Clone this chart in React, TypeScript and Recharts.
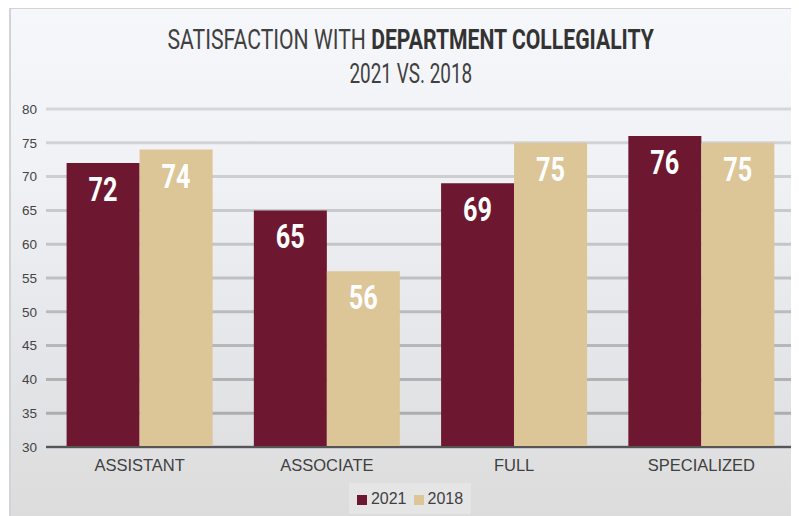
import { useLayoutEffect, useRef, useState } from 'react';
import { BarChart, Bar, XAxis, YAxis, CartesianGrid, LabelList } from 'recharts';

const categories = ['ASSISTANT', 'ASSOCIATE', 'FULL', 'SPECIALIZED'];
const values2021 = [72, 65, 69, 76];
const values2018 = [74, 56, 75, 75];
const yTicks = [30, 35, 40, 45, 50, 55, 60, 65, 70, 75, 80];

const MAROON = '#6d1730';
const TAN = '#dcc597';
const sans = '"Liberation Sans", Arial, sans-serif';

const data = categories.map((name, i) => ({
  name,
  y2021: values2021[i],
  y2018: values2018[i],
}));

// condensed look: squeeze glyphs with textLength
const ValueLabel = (props: any) => {
  const { x, y, width, value } = props;
  const txt = String(value);
  return (
    <text
      x={x + width / 2}
      y={y + 38}
      textAnchor="middle"
      fill="#ffffff"
      fontFamily="Roboto, sans-serif"
      fontWeight="bold"
      fontSize={33}
      textLength={txt.length * 14.5}
      lengthAdjust="spacingAndGlyphs"
    >
      {txt}
    </text>
  );
};

// html line squeezed horizontally to a target width (no condensed font installed)
const Narrow = ({ width, top, children }: { width: number; top: number; children: any }) => {
  const ref = useRef<HTMLDivElement>(null);
  const [s, setS] = useState(0.8);
  useLayoutEffect(() => {
    if (ref.current) setS(width / ref.current.offsetWidth);
  }, [width]);
  return (
    <div style={{ position: 'absolute', left: 0, width: 822, top, display: 'flex', justifyContent: 'center' }}>
      <div
        ref={ref}
        style={{
          whiteSpace: 'nowrap',
          fontFamily: 'Roboto, sans-serif',
          fontSize: 28,
          lineHeight: '34px',
          color: '#404040',
          transform: `scaleX(${s})`,
          transformOrigin: 'center',
        }}
      >
        {children}
      </div>
    </div>
  );
};

const App = () => {
  return (
    <div style={{ position: 'relative', width: 799, height: 516, marginLeft: -8, marginTop: -8, overflow: 'hidden' }}>
      <div
        style={{
          position: 'absolute',
          left: 9,
          top: 7,
          right: 0,
          bottom: 0,
          borderTop: '2px solid #d2d3d8',
          borderLeft: '2px solid #d2d3d8',
          background: 'linear-gradient(#f6f7fb, #f1f2f6 30%, #e4e5e8 70%, #dcdcdc)',
        }}
      />
      <Narrow width={486} top={23}>
        SATISFACTION WITH <b style={{ color: '#333333' }}>DEPARTMENT COLLEGIALITY</b>
      </Narrow>
      <Narrow width={123} top={57}>
        2021 VS. 2018
      </Narrow>
      <div style={{ position: 'absolute', left: 0, top: 0 }}>
        <BarChart
          width={799}
          height={516}
          data={data}
          margin={{ top: 109, right: 4, left: 0, bottom: 39 }}
          barCategoryGap="11%"
          barGap={0}
        >
          <defs>
            <linearGradient id="gridFade" gradientUnits="userSpaceOnUse" x1="0" y1="109" x2="0" y2="447">
              <stop offset="0%" stopColor="#d6d7dc" />
              <stop offset="100%" stopColor="#a9a9ab" />
            </linearGradient>
          </defs>
          <CartesianGrid vertical={false} stroke="url(#gridFade)" strokeWidth={3} />
          <XAxis
            dataKey="name"
            height={30}
            tickLine={false}
            axisLine={{ stroke: '#555555', strokeWidth: 2 }}
            tick={{ fill: '#404040', fontSize: 16.5, fontFamily: sans }}
            tickMargin={6}
          />
          <YAxis
            width={46}
            domain={[30, 80]}
            ticks={yTicks}
            axisLine={false}
            tickLine={false}
            tick={{ fill: '#444444', fontSize: 13.5, fontFamily: sans }}
            tickMargin={3}
          />
          <Bar dataKey="y2021" fill={MAROON} isAnimationActive={false}>
            <LabelList dataKey="y2021" content={ValueLabel} />
          </Bar>
          <Bar dataKey="y2018" fill={TAN} isAnimationActive={false}>
            <LabelList dataKey="y2018" content={ValueLabel} />
          </Bar>
        </BarChart>
      </div>
      <div
        style={{
          position: 'absolute',
          left: 349,
          top: 483,
          width: 122,
          height: 31,
          background: '#e5e5e6',
          display: 'flex',
          alignItems: 'center',
          justifyContent: 'center',
          fontFamily: sans,
          fontSize: 16,
          color: '#404040',
        }}
      >
        {[
          { label: '2021', color: MAROON },
          { label: '2018', color: TAN },
        ].map((item, i) => (
          <span key={item.label} style={{ display: 'flex', alignItems: 'center', marginLeft: i ? 7 : 0 }}>
            <span style={{ width: 10, height: 10, background: item.color, marginRight: 4, marginTop: 3 }} />
            {item.label}
          </span>
        ))}
      </div>
    </div>
  );
};

export default App;
